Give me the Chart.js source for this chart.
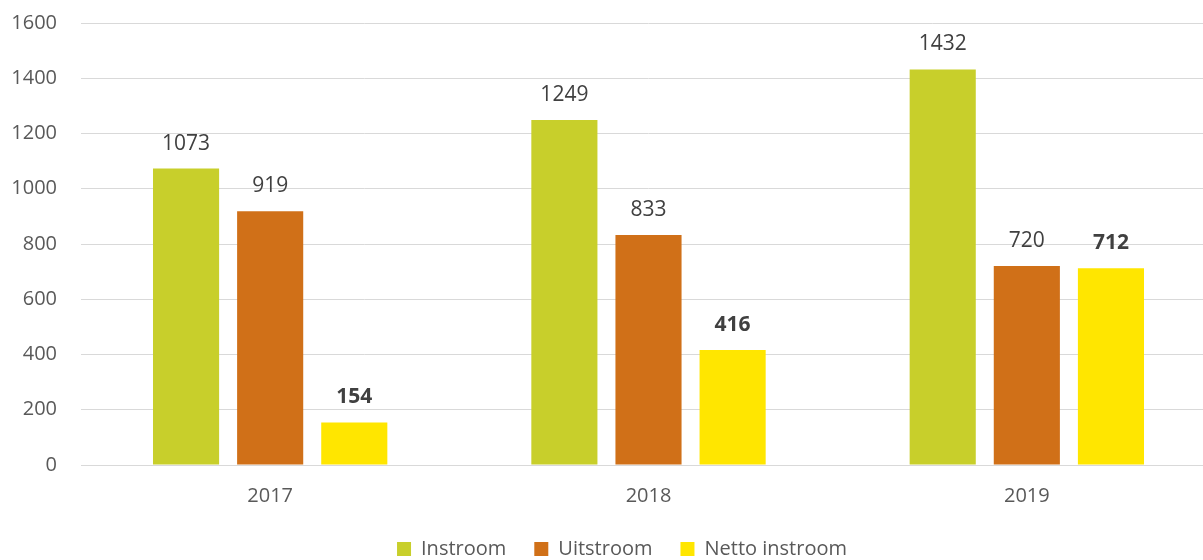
<!DOCTYPE html>
<html><head><meta charset="utf-8">
<script src="https://cdn.jsdelivr.net/npm/chart.js@4"></script>
<style>html,body{margin:0;padding:0;background:#fff;overflow:hidden}#wrap{width:1203px;height:560px;overflow:hidden;position:relative}#c{position:absolute;left:0;top:-13px}</style>
</head><body><div id="wrap"><canvas id="c" width="1216" height="573"></canvas></div>
<script>
const categories = ['2017', '2018', '2019'];
const instroom = [1073, 1249, 1432];
const uitstroom = [919, 833, 720];
const nettoInstroom = [154, 416, 712];
const yTicks = [0, 200, 400, 600, 800, 1000, 1200, 1400, 1600];

const FONT = "'Open Sans', 'Liberation Sans', sans-serif";
const labelPlugin = {
  id: 'vlabels',
  afterLayout(chart) {
    if (chart.legend) { chart.legend.left += 14; chart.legend.right += 14; }
  },
  afterDatasetsDraw(chart) {
    const ctx = chart.ctx;
    chart.data.datasets.forEach((ds, i) => {
      const meta = chart.getDatasetMeta(i);
      meta.data.forEach((bar, j) => {
        ctx.save();
        ctx.font = (i === 2 ? 'bold ' : '') + '21px ' + FONT;
        ctx.fillStyle = '#404040';
        ctx.textAlign = 'center';
        ctx.textBaseline = 'middle';
        ctx.fillText(String(ds.data[j]), bar.x, bar.y - 25);
        ctx.restore();
      });
    });
  }
};

new Chart(document.getElementById('c'), {
  type: 'bar',
  data: {
    labels: categories,
    datasets: [
      {label: 'Instroom', data: instroom, backgroundColor: '#c8cf2b'},
      {label: 'Uitstroom', data: uitstroom, backgroundColor: '#d07018'},
      {label: 'Netto instroom', data: nettoInstroom, backgroundColor: '#ffe600'}
    ]
  },
  options: {
    responsive: false,
    animation: false,
    layout: {padding: {top: -14, right: 0, left: 0, bottom: -9}},
    datasets: {bar: {categoryPercentage: 0.667, barPercentage: 0.786}},
    plugins: {
      legend: {
        position: 'bottom',
        labels: {font: {family: FONT, size: 20}, color: '#595959', boxWidth: 14, boxHeight: 14, padding: 28}
      },
      tooltip: {enabled: false}
    },
    scales: {
      x: {
        afterFit(scale) { scale.height = 46; },
        grid: {display: false, drawTicks: false},
        border: {color: '#d9d9d9', width: 1},
        ticks: {font: {family: FONT, size: 20}, color: '#595959', padding: 19}
      },
      y: {
        min: 0, max: 1600,
        afterBuildTicks(scale) { scale.ticks = yTicks.map(v => ({value: v})); },
        afterFit(scale) { scale.width = 81; },
        grid: {color: '#d9d9d9', drawTicks: false},
        border: {display: false},
        ticks: {font: {family: FONT, size: 20}, color: '#595959', padding: 24, callback: v => String(v)}
      }
    }
  },
  plugins: [labelPlugin]
});
</script></body></html>
